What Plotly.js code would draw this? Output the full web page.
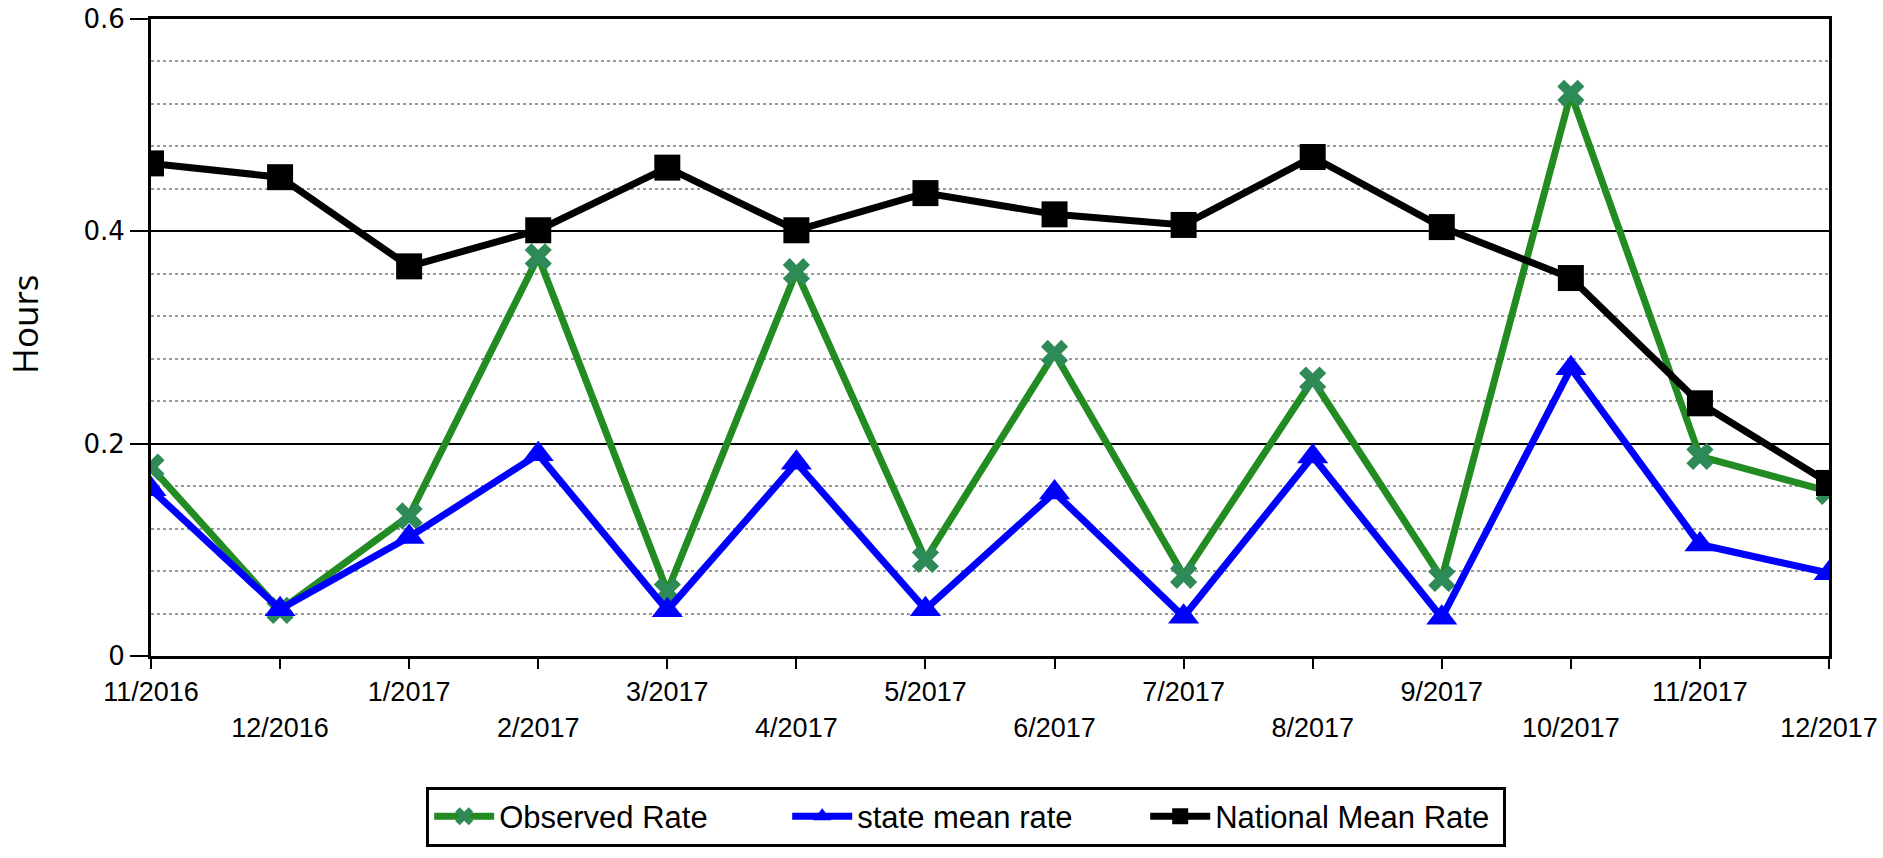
<!DOCTYPE html>
<html>
<head>
<meta charset="utf-8">
<script src="https://cdn.plot.ly/plotly-3.0.1.min.js"></script>
<style>
html,body{margin:0;padding:0;background:#fff;}
#chart{width:1883px;height:858px;}
</style>
</head>
<body>
<div id="chart"></div>
<script>
// Data
const months = ["11/2016","12/2016","1/2017","2/2017","3/2017","4/2017","5/2017","6/2017","7/2017","8/2017","9/2017","10/2017","11/2017","12/2017"];
const observedRate = [0.178,0.043,0.132,0.376,0.061,0.362,0.091,0.285,0.076,0.260,0.073,0.530,0.188,0.155];
const stateMeanRate = [0.157,0.044,0.112,0.190,0.043,0.182,0.044,0.154,0.037,0.188,0.036,0.271,0.105,0.078];
const nationalMeanRate = [0.464,0.451,0.367,0.401,0.460,0.401,0.436,0.416,0.406,0.470,0.404,0.356,0.238,0.163];
const yTickVals = [0, 0.2, 0.4, 0.6];
const yTickText = ["0", "0.2", "0.4", "0.6"];

// Alternate tick label rows
const xTickText = months.map((m, i) => (i % 2 === 0 ? m : "<br>" + m));

const labelFont = '"Liberation Sans", Arial, sans-serif';

const traces = [
  {
    x: months, y: observedRate, name: "Observed Rate", type: "scatter", mode: "lines+markers",
    line: {color: "#228B22", width: 7},
    marker: {symbol: "x", size: 24, color: "#2E8B57", line: {width: 0}}
  },
  {
    x: months, y: stateMeanRate, name: "state mean rate", type: "scatter", mode: "lines+markers",
    line: {color: "#0000FF", width: 7},
    marker: {symbol: "triangle-up", size: 27, color: "#0000FF", line: {width: 0}}
  },
  {
    x: months, y: nationalMeanRate, name: "National Mean Rate", type: "scatter", mode: "lines+markers",
    line: {color: "#000000", width: 7},
    marker: {symbol: "square", size: 26, color: "#000000", line: {width: 0}}
  }
];

const layout = {
  width: 1883, height: 858,
  margin: {l: 151, r: 54, t: 19, b: 196},
  paper_bgcolor: "#fff", plot_bgcolor: "#fff",
  showlegend: true,
  xaxis: {
    type: "category",
    range: [0, months.length - 1],
    tickmode: "array", tickvals: months, ticktext: xTickText,
    ticks: "outside", ticklen: 10, tickwidth: 2, tickcolor: "#000",
    showline: true, linecolor: "#000", linewidth: 3, mirror: true,
    showgrid: false, zeroline: false,
    tickfont: {family: labelFont, size: 27, color: "#000"},
    fixedrange: true
  },
  yaxis: {
    range: [0, 0.6],
    tickmode: "array", tickvals: yTickVals, ticktext: yTickText,
    ticks: "outside", ticklen: 18, tickwidth: 2, tickcolor: "#000",
    showline: true, linecolor: "#000", linewidth: 3, mirror: true,
    showgrid: true, gridcolor: "#000", gridwidth: 2,
    zeroline: false,
    minor: {dtick: 0.04, tick0: 0, showgrid: true, gridcolor: "#999", gridwidth: 2, griddash: "dot", ticks: ""},
    tickfont: {family: '"DejaVu Sans", Verdana, sans-serif', size: 26, color: "#000"},
    fixedrange: true
  },
  legend: {
    orientation: "h",
    x: 0.164, xanchor: "left",
    y: -0.205, yanchor: "top", xref: "paper", yref: "paper",
    bordercolor: "#000", borderwidth: 3,
    bgcolor: "#fff",
    font: {family: labelFont, size: 31, color: "#000"},
    itemwidth: 60,
    entrywidth: 283,
    tracegroupgap: 0
  },
  annotations: [
    {
      text: "Hours", xref: "paper", yref: "paper", x: -0.075, y: 0.52,
      xanchor: "center", yanchor: "middle", textangle: -90, showarrow: false,
      font: {family: '"Open Sans", "DejaVu Sans", sans-serif', size: 35, color: "#000"}
    }
  ]
};

Plotly.newPlot("chart", traces, layout, {displayModeBar: false, staticPlot: true});
</script>
</body>
</html>
